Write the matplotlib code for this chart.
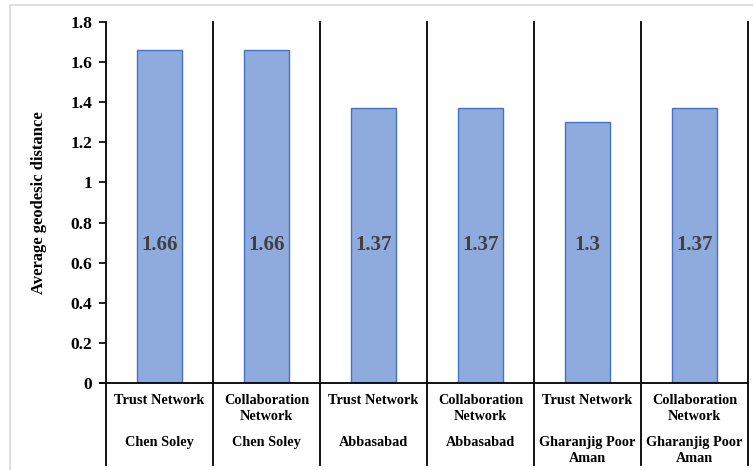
import matplotlib.pyplot as plt
from matplotlib.patches import Rectangle

# Data
networks = ["Trust Network", "Collaboration\nNetwork", "Trust Network",
            "Collaboration\nNetwork", "Trust Network", "Collaboration\nNetwork"]
villages = ["Chen Soley", "Chen Soley", "Abbasabad", "Abbasabad",
            "Gharanjig Poor\nAman", "Gharanjig Poor\nAman"]
values = [1.66, 1.66, 1.37, 1.37, 1.3, 1.37]
yticks = [0, 0.2, 0.4, 0.6, 0.8, 1, 1.2, 1.4, 1.6, 1.8]
ytick_labels = ["0", "0.2", "0.4", "0.6", "0.8", "1", "1.2", "1.4", "1.6", "1.8"]

plt.rcParams['font.family'] = ['Liberation Serif', 'DejaVu Serif']
plt.rcParams['font.weight'] = 'bold'

W, H = 753, 470
fig = plt.figure(figsize=(W / 100, H / 100), dpi=100)
ax = fig.add_axes([106 / W, (H - 383) / H, (748 - 106) / W, (383 - 22) / H])

n = len(values)
xs = [i + 0.5 for i in range(n)]
ax.bar(xs, values, width=0.42, color="#8FAADC", edgecolor="#4472C4", linewidth=1.0, zorder=2)

for x, v in zip(xs, values):
    ax.text(x, 0.69, f"{v:g}", ha="center", va="center", fontsize=15,
            fontweight="bold", color="#404040", zorder=3)

ax.set_xlim(0, n)
ax.set_ylim(0, 1.8)
ax.set_yticks(yticks)
ax.set_yticklabels(ytick_labels, fontsize=12.5, fontweight="bold")
ax.tick_params(axis="y", direction="out", length=5, width=1.2, pad=5)
ax.set_xticks([])
ax.set_ylabel("Average geodesic distance", fontsize=12, fontweight="bold", labelpad=17)

for s in ["top", "right"]:
    ax.spines[s].set_visible(False)
ax.spines["left"].set_visible(False)
ax.spines["bottom"].set_linewidth(1.3)
ax.spines["bottom"].set_bounds(-0.06, n)

# Category separators running down through the label area
xt = ax.get_xaxis_transform()
bottom_frac = -(465 - 383) / (383 - 22)
for k in range(n + 1):
    ax.plot([k, k], [bottom_frac, 1.0], transform=xt, color="black",
            linewidth=1.3, clip_on=False, zorder=4)

# Two-level category labels
row1 = -(394 - 383) / (383 - 22)
row2 = -(436 - 383) / (383 - 22)
for x, net, vil in zip(xs, networks, villages):
    ax.text(x, row1, net, transform=xt, ha="center", va="top", fontsize=10.3,
            fontweight="bold", linespacing=1.3)
    ax.text(x, row2, vil, transform=xt, ha="center", va="top", fontsize=10.3,
            fontweight="bold", linespacing=1.3)

# Outer chart-area frame
fig.add_artist(Rectangle((10 / W, -0.5), 2.0, 0.5 + (H - 5) / H,
                         transform=fig.transFigure, fill=False,
                         edgecolor="#D9D9D9", linewidth=1.2, clip_on=False))

fig.savefig("out.png", dpi=100)
